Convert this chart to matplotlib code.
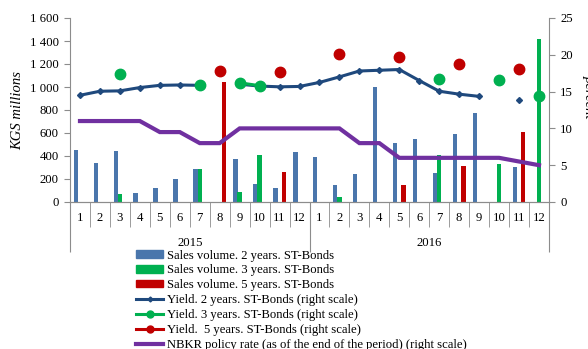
import matplotlib.pyplot as plt
import numpy as np
from matplotlib.lines import Line2D
from matplotlib.patches import Patch
from matplotlib.ticker import FuncFormatter
import matplotlib.transforms as mtransforms

nan = np.nan

# Monthly data, Jan 2015 - Dec 2016
years = ['2015', '2016']
months = ['1', '2', '3', '4', '5', '6', '7', '8', '9', '10', '11', '12']

# Sales volume, KGS millions
sales_2y = [455, 340, 440, 80, 120, 200, 290, 0, 370, 155, 125, 433,
            390, 150, 240, 1000, 510, 550, 255, 590, 770, 0, 300, 0]
sales_3y = [0, 0, 67, 0, 0, 0, 285, 0, 85, 410, 0, 0,
            0, 40, 0, 0, 0, 0, 405, 0, 0, 330, 0, 1420]
sales_5y = [0, 0, 0, 0, 0, 0, 0, 1040, 0, 0, 260, 0,
            0, 0, 0, 0, 150, 0, 0, 315, 0, 0, 605, 0]

# Yields and policy rate, percent
yield_2y = [14.5, 15.05, 15.1, 15.55, 15.85, 15.9, 15.85, nan, 16.0, 15.75, 15.65, 15.7,
            16.25, 17.0, 17.8, 17.9, 18.0, 16.5, 15.05, 14.65, 14.35, nan, 13.8, nan]
yield_3y = [nan, nan, 17.45, nan, nan, nan, 15.85, nan, 16.2, 15.8, nan, nan,
            nan, nan, nan, nan, nan, nan, 16.75, nan, nan, 16.6, nan, 14.35]
yield_5y = [nan, nan, nan, nan, nan, nan, nan, 17.85, nan, nan, 17.65, nan,
            nan, 20.05, nan, nan, 19.75, nan, nan, 18.7, nan, nan, 18.05, nan]
policy_rate = [11, 11, 11, 11, 9.5, 9.5, 8, 8, 10, 10, 10, 10,
               10, 10, 8, 8, 6, 6, 6, 6, 6, 6, 5.5, 5]

BLUE = '#4A76AC'
GREEN = '#00B050'
RED = '#C00000'
NAVY = '#1F497D'
PURPLE = '#7030A0'
GRAY = '#8C8C8C'

plt.rcParams['font.family'] = 'Liberation Serif'
plt.rcParams['font.size'] = 9.2

fig = plt.figure(figsize=(5.88, 3.49), dpi=100)
ax = fig.add_axes([70 / 588, 1 - 202 / 349, 479 / 588, 184 / 349])
ax2 = ax.twinx()

x = np.arange(len(sales_2y))
w = 0.22
ax.bar(x - 0.21, sales_2y, w, color=BLUE)
ax.bar(x, sales_3y, w, color=GREEN)
ax.bar(x + 0.21, sales_5y, w, color=RED)

ax2.plot(x, policy_rate, color=PURPLE, lw=3, solid_joinstyle='miter')
ax2.plot(x, yield_2y, color=NAVY, lw=2.2, marker='D', markersize=3)
ax2.plot(x, yield_3y, color=GREEN, lw=2.2, marker='o', markersize=7.5)
ax2.plot(x, yield_5y, color=RED, lw=2.2, marker='o', markersize=7.5)

ax.set_xlim(-0.5, len(x) - 0.5)
ax.set_ylim(0, 1600)
ax.set_yticks(range(0, 1601, 200))
ax.yaxis.set_major_formatter(FuncFormatter(lambda v, p: f'{int(v):,}'.replace(',', ' ')))
ax2.set_ylim(0, 25)
ax2.set_yticks(range(0, 26, 5))

for a in (ax, ax2):
    a.spines['top'].set_visible(False)
    for s in a.spines.values():
        s.set_color(GRAY)
    a.tick_params(axis='y', colors=GRAY, labelcolor='black', length=4, pad=4)
ax.spines['right'].set_visible(False)
ax2.spines['left'].set_visible(False)
ax2.spines['right'].set_visible(True)

# category separators under the axis
ax.set_xticks([-0.5, 11.5, 23.5])
ax.set_xticks(np.arange(0.5, 23, 1), minor=True)
ax.tick_params(axis='x', which='major', length=36, color=GRAY, labelbottom=False)
ax.tick_params(axis='x', which='minor', length=18, color=GRAY)

trans = mtransforms.blended_transform_factory(ax.transData, ax.transAxes)
for i in x:
    ax.text(i, -0.087, months[i % 12], transform=trans, ha='center', va='center')
for k, yr in enumerate(years):
    ax.text(k * 12 + 5.5, -0.224, yr, transform=trans, ha='center', va='center')

ax.set_ylabel('KGS millions', style='italic', fontsize=10.5, labelpad=4)
fig.text(589.5 / 588, 1 - 97 / 349, 'percent', rotation=-90, style='italic',
         fontsize=10.5, ha='center', va='center')

handles = [
    Patch(color=BLUE, label='Sales volume. 2 years. ST-Bonds'),
    Patch(color=GREEN, label='Sales volume. 3 years. ST-Bonds'),
    Patch(color=RED, label='Sales volume. 5 years. ST-Bonds'),
    Line2D([], [], color=NAVY, lw=2.2, marker='D', markersize=2.5,
           label='Yield. 2 years. ST-Bonds (right scale)'),
    Line2D([], [], color=GREEN, lw=2.2, marker='o', markersize=5,
           label='Yield. 3 years. ST-Bonds (right scale)'),
    Line2D([], [], color=RED, lw=2.2, marker='o', markersize=5,
           label='Yield.  5 years. ST-Bonds (right scale)'),
    Line2D([], [], color=PURPLE, lw=3,
           label='NBKR policy rate (as of the end of the period) (right scale)'),
]
fig.legend(handles=handles, loc='upper left', bbox_to_anchor=(136 / 588, 1 - 249.5 / 349),
           frameon=False, borderpad=0, borderaxespad=0, handlelength=2.15,
           handleheight=0.5, handletextpad=0.3, labelspacing=0.23, fontsize=9.1)

plt.savefig('out.png', dpi=100)
